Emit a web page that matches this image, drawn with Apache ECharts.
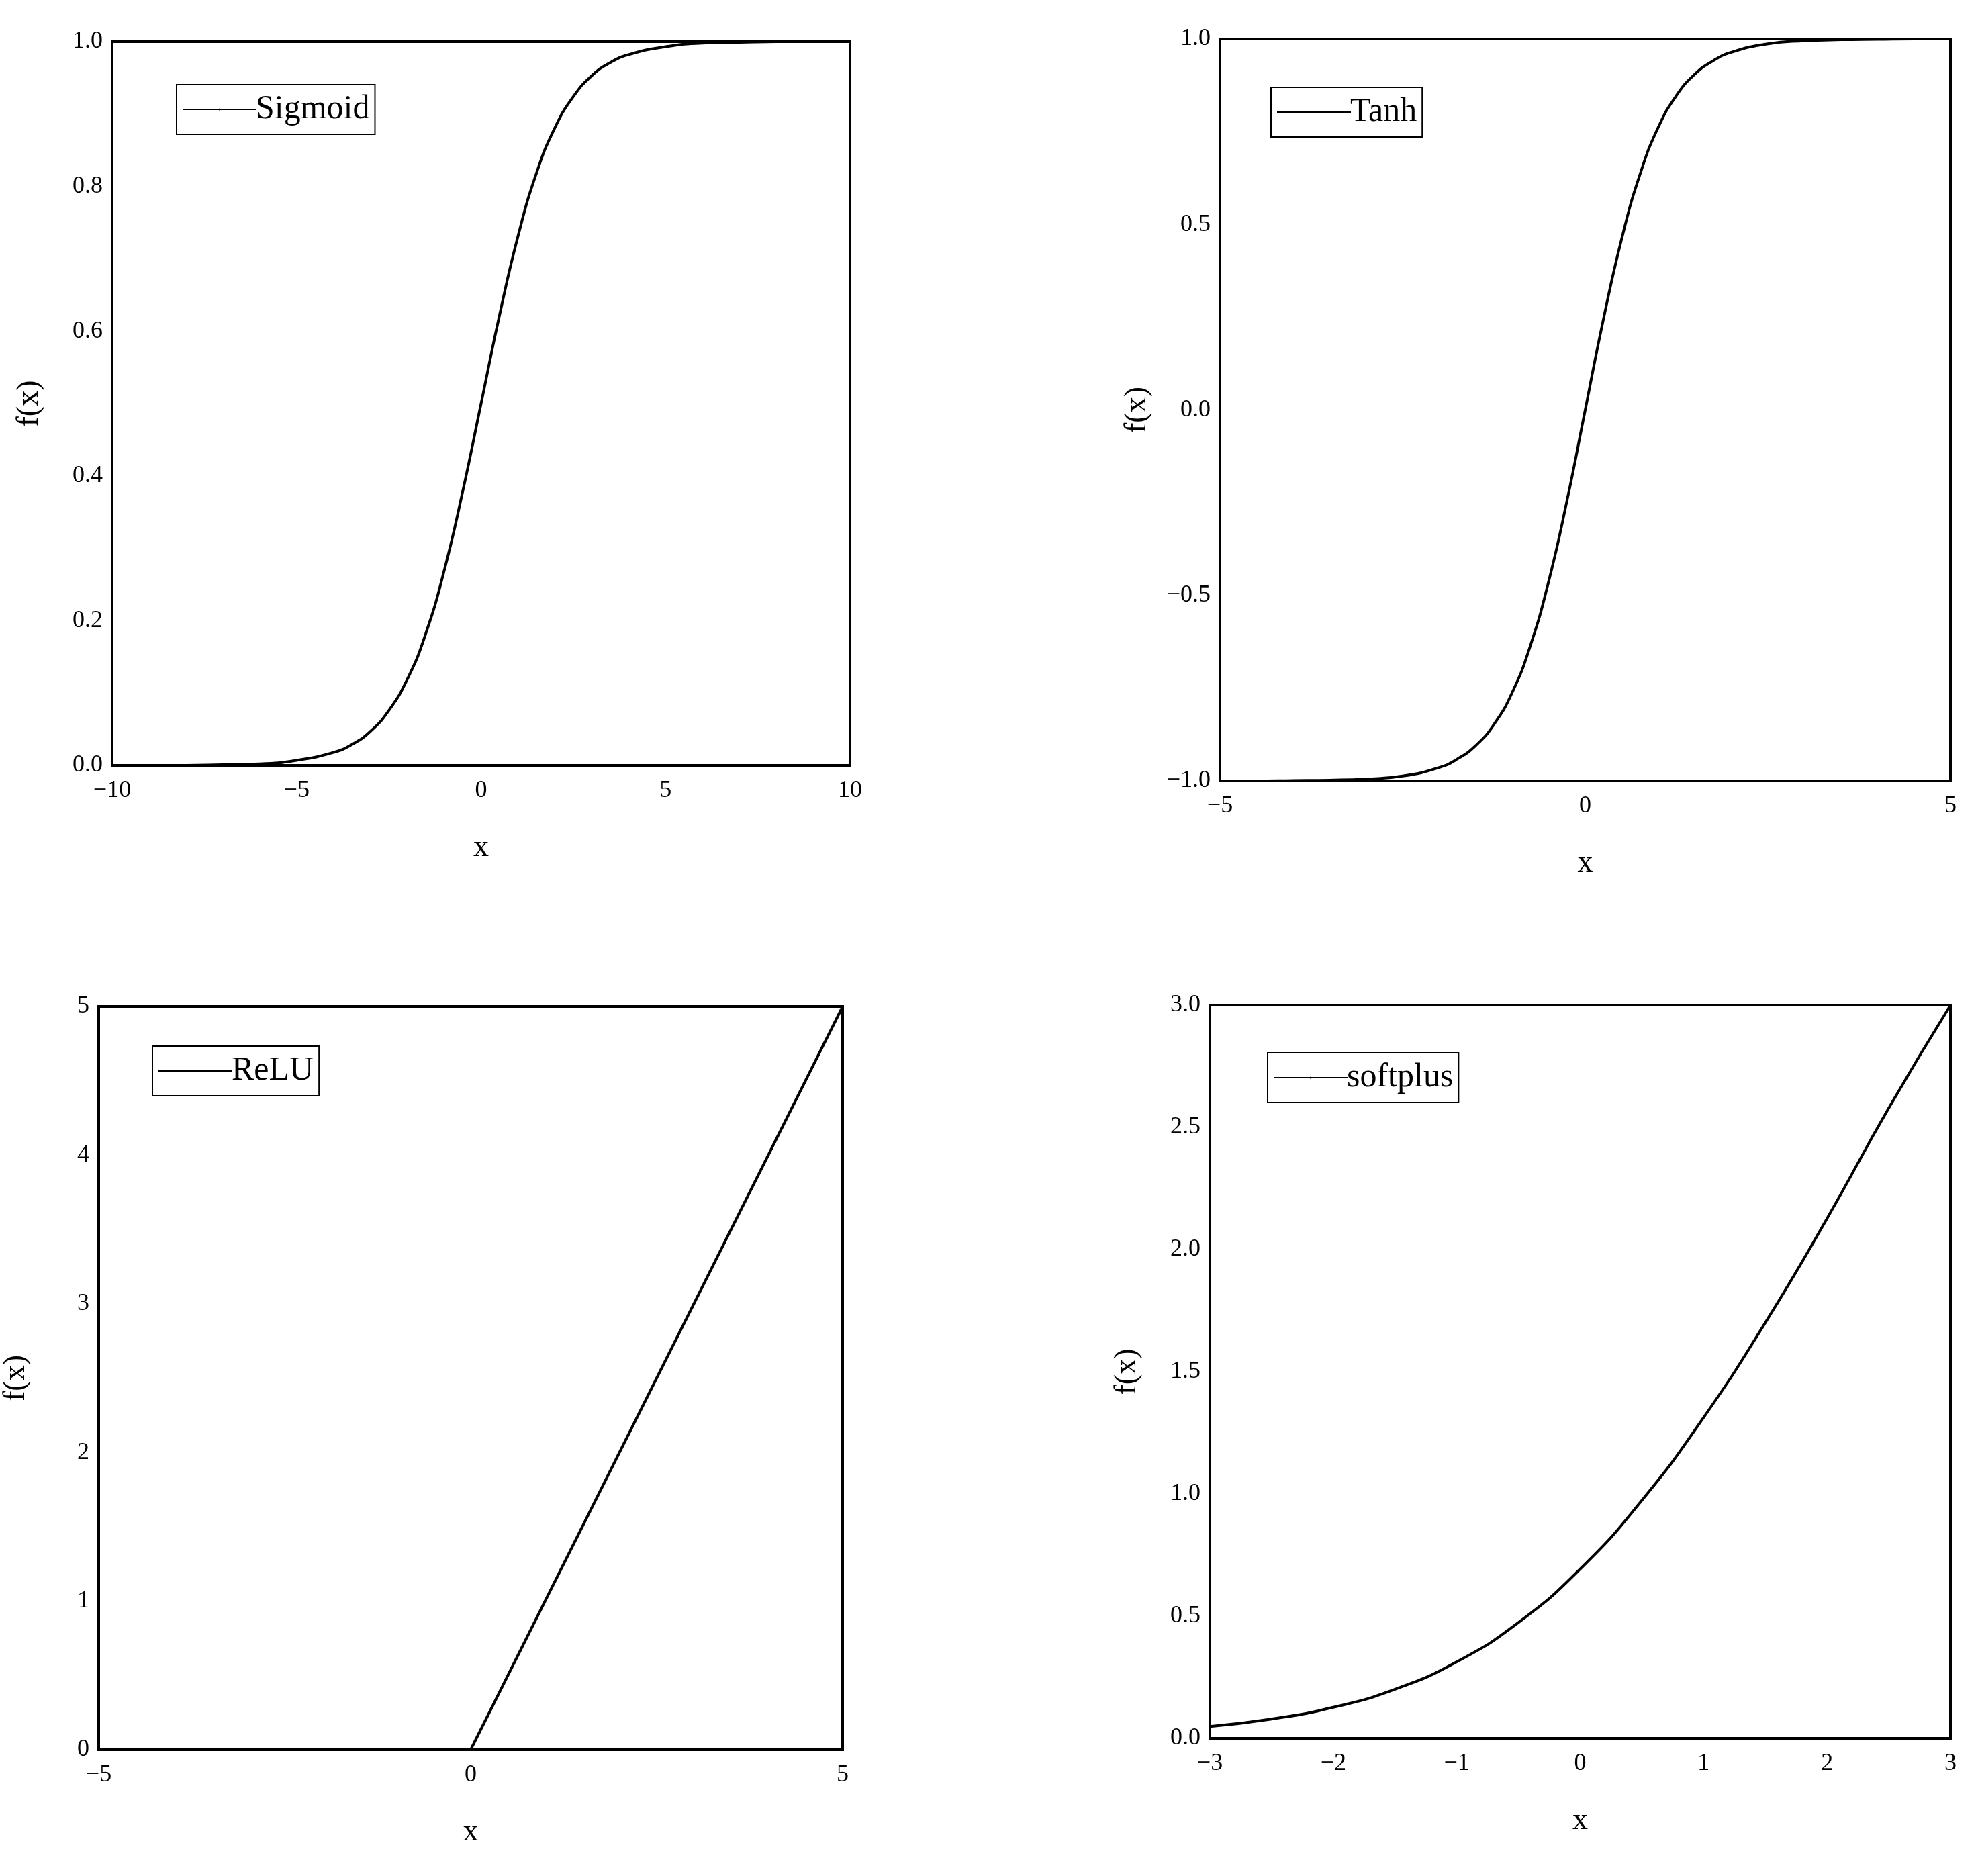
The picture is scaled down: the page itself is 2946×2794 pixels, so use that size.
<!DOCTYPE html>
<html>
<head>
<meta charset="utf-8">
<script src="https://cdn.jsdelivr.net/npm/echarts@6/dist/echarts.min.js"></script>
<style>html,body{margin:0;background:#fff}#main{width:2946px;height:2794px}</style>
</head>
<body>
<div id="main"></div>
<script>
var chart = echarts.init(document.getElementById("main"));

// values
var sigmoidX = [-10, -9, -8, -7, -6, -5, -4, -3.5, -3, -2.5, -2, -1.5, -1, -0.5, 0, 0.5, 1, 1.5, 2, 2.5, 3, 3.5, 4, 5, 6, 7, 8, 9, 10];
var sigmoidY = [0.000, 0.000, 0.000, 0.001, 0.002, 0.007, 0.018, 0.029, 0.047, 0.076, 0.119, 0.182, 0.269, 0.378, 0.5, 0.622, 0.731, 0.818, 0.881, 0.924, 0.953, 0.971, 0.982, 0.993, 0.998, 0.999, 1.0, 1.0, 1.0];
var tanhX = [-5, -4.5, -4, -3.5, -3, -2.5, -2, -1.75, -1.5, -1.25, -1, -0.75, -0.5, -0.25, 0, 0.25, 0.5, 0.75, 1, 1.25, 1.5, 1.75, 2, 2.5, 3, 3.5, 4, 4.5, 5];
var tanhY = [-1.0, -1.0, -0.999, -0.998, -0.995, -0.987, -0.964, -0.941, -0.905, -0.848, -0.762, -0.635, -0.462, -0.245, 0, 0.245, 0.462, 0.635, 0.762, 0.848, 0.905, 0.941, 0.964, 0.987, 0.995, 0.998, 0.999, 1.0, 1.0];
var reluX = [-5, 0, 5];
var reluY = [0, 0, 5];
var softX = [-3, -2.5, -2, -1.5, -1, -0.5, 0, 0.5, 1, 1.5, 2, 2.5, 3];
var softY = [0.049, 0.079, 0.127, 0.201, 0.313, 0.474, 0.693, 0.974, 1.313, 1.701, 2.127, 2.579, 3.0];

var font = "Liberation Serif";
var panels = [
    { name: "Sigmoid", x: sigmoidX, y: sigmoidY, xr: [-10, 10, 5], yr: [0, 1, 0.2], dec: 1,
      grid: { left: 167, top: 62, width: 1099, height: 1078 }, leg: [263, 126] },
    { name: "Tanh", x: tanhX, y: tanhY, xr: [-5, 5, 5], yr: [-1, 1, 0.5], dec: 1,
      grid: { left: 1817, top: 58, width: 1088, height: 1105 }, leg: [1893, 130] },
    { name: "ReLU", x: reluX, y: reluY, xr: [-5, 5, 5], yr: [0, 5, 1], dec: 0,
      grid: { left: 133, top: 1499, width: 1122, height: 1107 }, leg: [227, 1558] },
    { name: "softplus", x: softX, y: softY, xr: [-3, 3, 1], yr: [0, 3, 0.5], dec: 1,
      grid: { left: 1802, top: 1497, width: 1103, height: 1092 }, leg: [1888, 1568] }
];

function fmt(dec) {
    return function (v) { return v.toFixed(dec).replace("-", "\u2212"); };
}

var option = { backgroundColor: "#fff", grid: [], xAxis: [], yAxis: [], series: [], legend: [] };
panels.forEach(function (p, i) {
    var g = p.grid;
    g.show = true; g.borderColor = "#000"; g.borderWidth = 4; g.containLabel = false;
    option.grid.push(g);
    option.xAxis.push({
        type: "value", gridIndex: i, min: p.xr[0], max: p.xr[1], interval: p.xr[2],
        name: "x", nameLocation: "middle", nameGap: 100,
        nameTextStyle: { fontFamily: font, fontSize: 46, color: "#000" },
        axisLine: { show: true, onZero: false, lineStyle: { color: "#000", width: 4 } },
        axisTick: { show: false }, splitLine: { show: false },
        axisLabel: { formatter: fmt(0), fontFamily: font, fontSize: 36, color: "#000", margin: 20 }
    });
    option.yAxis.push({
        type: "value", gridIndex: i, min: p.yr[0], max: p.yr[1], interval: p.yr[2],
        name: "f(x)", nameLocation: "middle", nameGap: 100,
        nameTextStyle: { fontFamily: font, fontSize: 46, color: "#000" },
        axisLine: { show: true, onZero: false, lineStyle: { color: "#000", width: 4 } },
        axisTick: { show: false }, splitLine: { show: false },
        axisLabel: { formatter: fmt(p.dec), fontFamily: font, fontSize: 36, color: "#000", margin: 14 }
    });
    var data = p.x.map(function (v, k) { return [v, p.y[k]]; });
    option.series.push({
        type: "line", name: p.name, xAxisIndex: i, yAxisIndex: i, data: data,
        smooth: p.name !== "ReLU", symbol: "none",
        lineStyle: { color: "#000", width: 4 }, itemStyle: { color: "#000" }
    });
    option.legend.push({
        data: [p.name], left: p.leg[0], top: p.leg[1], orient: "vertical",
        borderColor: "#000", borderWidth: 2, borderRadius: 0, padding: [12, 8, 12, 8],
        itemWidth: 110, itemHeight: 4, itemGap: 0,
        textStyle: { fontFamily: font, fontSize: 50, color: "#000", padding: [0, 0, 0, -6] }
    });
});
chart.setOption(option);
</script>
</body>
</html>
